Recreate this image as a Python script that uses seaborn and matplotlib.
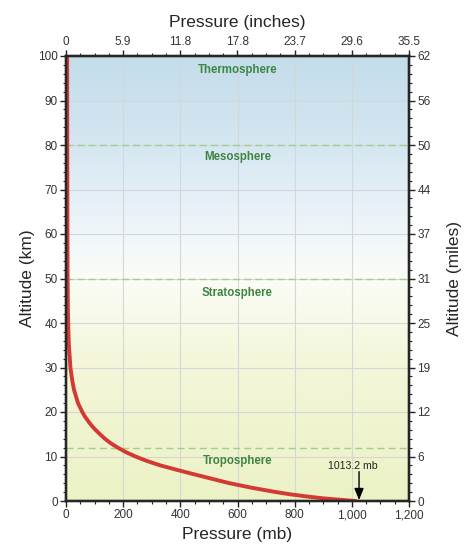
import numpy as np
import pandas as pd
import matplotlib
matplotlib.use("Agg")
import matplotlib.pyplot as plt
from matplotlib.colors import LinearSegmentedColormap
import seaborn as sns

# ---- data ----
altitude_km = [0, 0.3, 0.6, 1, 1.5, 2, 3, 4, 5, 6, 7, 8, 9, 10, 11, 12, 13, 14, 15,
               16, 17, 18, 19, 20, 22, 25, 27, 30, 35, 40, 45, 50, 60, 80, 100]
pressure_mb = [1013.2, 955, 900, 845, 785, 735, 648, 572, 510, 448, 388, 330, 283, 243,
               209, 181, 156, 136, 119, 103, 89, 77, 66, 57, 42, 28, 22, 15.5, 10, 7.5,
               6.3, 5.6, 5, 4.5, 4]

x_ticks_mb = [0, 200, 400, 600, 800, 1000, 1200]
x_labels_mb = ["0", "200", "400", "600", "800", "1,000", "1,200"]
x_labels_in = ["0", "5.9", "11.8", "17.8", "23.7", "29.6", "35.5"]
y_ticks_km = [0, 10, 20, 30, 40, 50, 60, 70, 80, 90, 100]
y_labels_mi = ["0", "6", "12", "19", "25", "31", "37", "44", "50", "56", "62"]

layer_names = ["Thermosphere", "Mesosphere", "Stratosphere", "Troposphere"]
layer_label_alt = [96.8, 77.3, 46.8, 9.0]
boundary_alt = [80, 50, 12]
surface_pressure = 1013.2

df = pd.DataFrame({"pressure": pressure_mb, "altitude": altitude_km})

# ---- style ----
sns.set_style("ticks")
plt.rcParams["font.family"] = ["Liberation Sans", "DejaVu Sans"]

fig = plt.figure(figsize=(4.74, 5.53), dpi=100)
ax = fig.add_axes([66/474, 1 - 501/553, (409-66)/474, (501-56)/553])

# gradient background
stops = [(0.0, (0.925, 0.949, 0.772)),
         (0.30, (0.953, 0.965, 0.850)),
         (0.50, (0.985, 0.990, 0.965)),
         (0.60, (0.940, 0.965, 0.980)),
         (0.80, (0.835, 0.905, 0.945)),
         (1.0, (0.765, 0.867, 0.918))]
cmap = LinearSegmentedColormap.from_list("atm", stops)
grad = np.linspace(0, 1, 256).reshape(-1, 1)
ax.imshow(grad, extent=[0, 1200, 0, 100], origin="lower", aspect="auto",
          cmap=cmap, zorder=0)

ax.set_xlim(0, 1200)
ax.set_ylim(0, 100)

# grid
for xt in x_ticks_mb[1:-1]:
    ax.axvline(xt, color="#d3d7d5", lw=0.8, zorder=1)
for yt in y_ticks_km[1:-1]:
    ax.axhline(yt, color="#d3d7d5", lw=0.8, zorder=1)

# layer boundaries
for b in boundary_alt:
    ax.axhline(b, color="#9fcf8f", lw=1.0, ls=(0, (5, 3)), zorder=2)

# curve
sns.lineplot(data=df, x="pressure", y="altitude", orient="y", estimator=None,
             color="#d23a33", lw=2.8, ax=ax, zorder=4)

for name, alt in zip(layer_names, layer_label_alt):
    ax.text(600, alt, name, ha="center", va="center", fontsize=8.3,
            fontweight="bold", color="#3f8443", zorder=5)

ax.annotate("", xy=(surface_pressure + 12, 0.2), xytext=(surface_pressure + 12, 6.6),
            arrowprops=dict(arrowstyle="-|>,head_length=0.7,head_width=0.28",
                            color="black", lw=1.0, shrinkA=0, shrinkB=0), zorder=6)
ax.text(surface_pressure - 10, 7.9, f"{surface_pressure} mb", ha="center",
        va="center", fontsize=7.6, color="#222222", zorder=6)

# axes styling
ax.set_xticks(x_ticks_mb)
ax.set_xticklabels(x_labels_mb)
ax.set_yticks(y_ticks_km)
ax.set_xticks(np.arange(0, 1201, 50), minor=True)
ax.set_yticks(np.arange(0, 101, 2), minor=True)
ax.set_xlabel("Pressure (mb)", fontsize=12.5, labelpad=4)
ax.set_ylabel("Altitude (km)", fontsize=12.5, labelpad=2)

for spine in ax.spines.values():
    spine.set_linewidth(1.6)
    spine.set_visible(True)
    spine.set_zorder(7)

tick_kw = dict(direction="out", color="#222222", labelcolor="#333333")
ax.tick_params(which="major", length=4, width=1.0, labelsize=8.5, pad=2, **tick_kw)
ax.tick_params(which="minor", length=2.5, width=0.8, **tick_kw)

axr = ax.twinx()
axr.set_ylim(0, 100)
axr.set_yticks(y_ticks_km)
axr.set_yticklabels(y_labels_mi)
axr.set_yticks(np.arange(0, 101, 2), minor=True)
axr.set_ylabel("Altitude (miles)", fontsize=12.5, labelpad=12)
axr.tick_params(which="major", length=4, width=1.0, labelsize=8.5, pad=2, **tick_kw)
axr.tick_params(which="minor", length=2.5, width=0.8, **tick_kw)

axt = ax.twiny()
axt.set_xlim(0, 1200)
axt.set_xticks(x_ticks_mb)
axt.set_xticklabels(x_labels_in)
axt.set_xticks(np.arange(0, 1201, 50), minor=True)
axt.set_xlabel("Pressure (inches)", fontsize=12.5, labelpad=6)
axt.tick_params(which="major", length=4, width=1.0, labelsize=8.5, pad=2, **tick_kw)
axt.tick_params(which="minor", length=2.5, width=0.8, **tick_kw)

for a in (axr, axt):
    for spine in a.spines.values():
        spine.set_linewidth(1.6)

fig.savefig("out.png", dpi=100, facecolor="white")
